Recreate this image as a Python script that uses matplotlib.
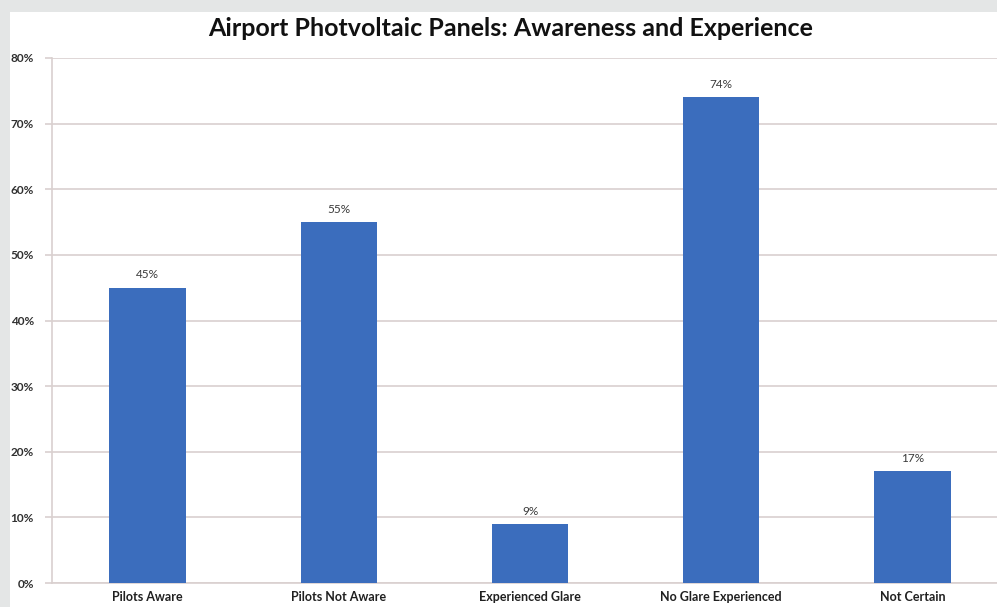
import matplotlib
matplotlib.use("Agg")
import matplotlib.pyplot as plt
from matplotlib.patches import Rectangle
from matplotlib.ticker import FuncFormatter, MultipleLocator

categories = ["Pilots Aware", "Pilots Not Aware", "Experienced Glare",
              "No Glare Experienced", "Not Certain"]
values = [45, 55, 9, 74, 17]
value_labels = ["45%", "55%", "9%", "74%", "17%"]
title = "Airport Photvoltaic Panels: Awareness and Experience"

W, H = 997, 607
fig = plt.figure(figsize=(W / 100, H / 100), dpi=100)
fig.patch.set_facecolor("#e4e6e6")

# white chart card inside the grey frame
fig.add_artist(Rectangle((10 / W, 0), 1, 1 - 12 / H, transform=fig.transFigure,
                         facecolor="white", edgecolor="none", zorder=-1))

font = ["Lato", "DejaVu Sans"]
grid_col = "#d9d0cf"

# plot area runs a little past the right edge of the canvas
left, right = 52 / W, 1008 / W
bottom, top = (H - 583) / H, (H - 58) / H
ax = fig.add_axes([left, bottom, right - left, top - bottom], zorder=1)
ax.set_facecolor("none")

x = range(len(categories))
ax.bar(x, values, width=0.4, color="#3b6dbd", zorder=3)
for xi, v, lab in zip(x, values, value_labels):
    ax.text(xi, v + 1.1, lab, ha="center", va="bottom", fontsize=8.5,
            color="#3a3a3a", family=font)

ax.set_xlim(-0.5, len(categories) - 0.5)
ax.set_ylim(0, 80)
ax.yaxis.set_major_locator(MultipleLocator(10))
ax.yaxis.set_major_formatter(FuncFormatter(lambda v, p: f"{v:.0f}%"))
ax.grid(axis="y", color=grid_col, linewidth=1.2, zorder=0)
ax.set_axisbelow(True)

for s in ["top", "right"]:
    ax.spines[s].set_visible(False)
for s in ["left", "bottom"]:
    ax.spines[s].set_color(grid_col)
    ax.spines[s].set_linewidth(1.2)

ax.tick_params(axis="y", length=5, width=1.2, color=grid_col, pad=8,
               labelsize=8.5, labelcolor="#303030")
ax.tick_params(axis="x", length=0, pad=6, labelsize=9, labelcolor="#202020")
ax.set_xticks(list(x))
ax.set_xticklabels(categories, family=font, fontweight="bold")
for t in ax.get_yticklabels():
    t.set_family(font)
    t.set_fontweight("bold")

fig.text(511 / W, 1 - 28 / H, title, ha="center", va="center", fontsize=18,
         fontweight="bold", color="#111111", family=font)

fig.savefig("out.png", dpi=100, facecolor=fig.get_facecolor())
